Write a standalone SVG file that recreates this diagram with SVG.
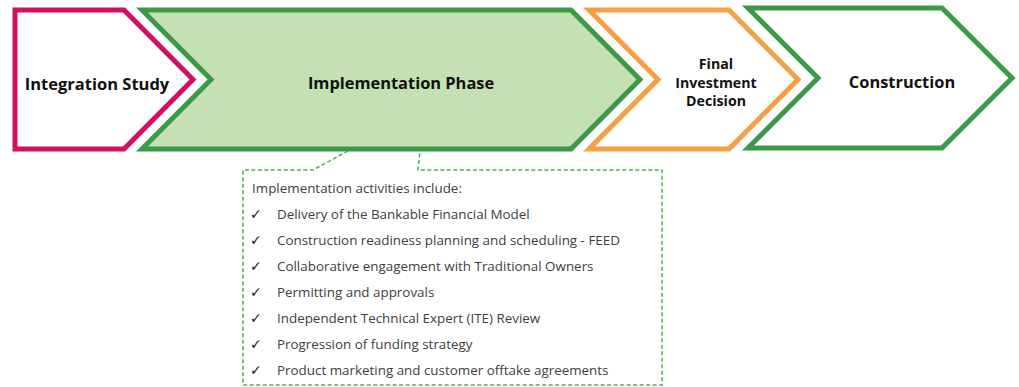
<svg xmlns="http://www.w3.org/2000/svg" width="1019" height="387" viewBox="0 0 1019 387">
  <style>
    .stage { stroke-width: 5; stroke-linejoin: miter; }
    .title { font-family: "Open Sans", "Noto Sans", sans-serif; font-weight: bold; fill: #111; text-anchor: middle; }
    .item { font-family: "Open Sans", "Noto Sans", sans-serif; font-size: 13.4px; fill: #404040; }
    .tick { font-family: "DejaVu Sans", sans-serif; font-size: 14px; fill: #1a1a1a; }
  </style>
  <rect width="1019" height="387" fill="#fff"/>

  <g id="integration-study">
    <polygon class="stage" points="15,10 124,10 193,79.5 124,149 15,149" fill="#fff" stroke="#D0115F"/>
    <text class="title" x="97" y="90" font-size="16.5">Integration Study</text>
  </g>

  <g id="implementation-phase">
    <polygon class="stage" points="142,10 571,10 640,79.5 571,149 142,149 211,79.5" fill="#C5E0B4" stroke="#3A9A48"/>
    <text class="title" x="401" y="89" font-size="16.4">Implementation Phase</text>
  </g>

  <g id="final-investment-decision">
    <polygon class="stage" points="589,10 729,10 798,79.5 729,149 589,149 658,79.5" fill="#fff" stroke="#F5A045"/>
    <text class="title" x="716" y="69" font-size="14.2">Final</text>
    <text class="title" x="716" y="88" font-size="14.2">Investment</text>
    <text class="title" x="716" y="106" font-size="14.2">Decision</text>
  </g>

  <g id="construction">
    <polygon class="stage" points="748,8 942,8 1012,78 942,148 748,148 818,78" fill="#fff" stroke="#3A9A48"/>
    <text class="title" x="902" y="88" font-size="16.4">Construction</text>
  </g>

  <g id="connectors">
    <!-- callout outline hanging from the implementation stage -->
    <path d="M348,151 L313,170 L243,170 L243,385 L662,385 L662,170 L418,170 L420,151" fill="none" stroke="#4CAF50" stroke-width="1.5" stroke-dasharray="4,2.5"/>
  </g>

  <g id="activities">
    <text class="item" x="252" y="193">Implementation activities include:</text>
    <g class="tick">
      <text x="250" y="219">✓</text>
      <text x="250" y="245">✓</text>
      <text x="250" y="271">✓</text>
      <text x="250" y="297">✓</text>
      <text x="250" y="323">✓</text>
      <text x="250" y="349">✓</text>
      <text x="250" y="375">✓</text>
    </g>
    <text class="item" x="277" y="219">Delivery of the Bankable Financial Model</text>
    <text class="item" x="277" y="245">Construction readiness planning and scheduling - FEED</text>
    <text class="item" x="277" y="271">Collaborative engagement with Traditional Owners</text>
    <text class="item" x="277" y="297">Permitting and approvals</text>
    <text class="item" x="277" y="323">Independent Technical Expert (ITE) Review</text>
    <text class="item" x="277" y="349">Progression of funding strategy</text>
    <text class="item" x="277" y="375">Product marketing and customer offtake agreements</text>
  </g>
</svg>
